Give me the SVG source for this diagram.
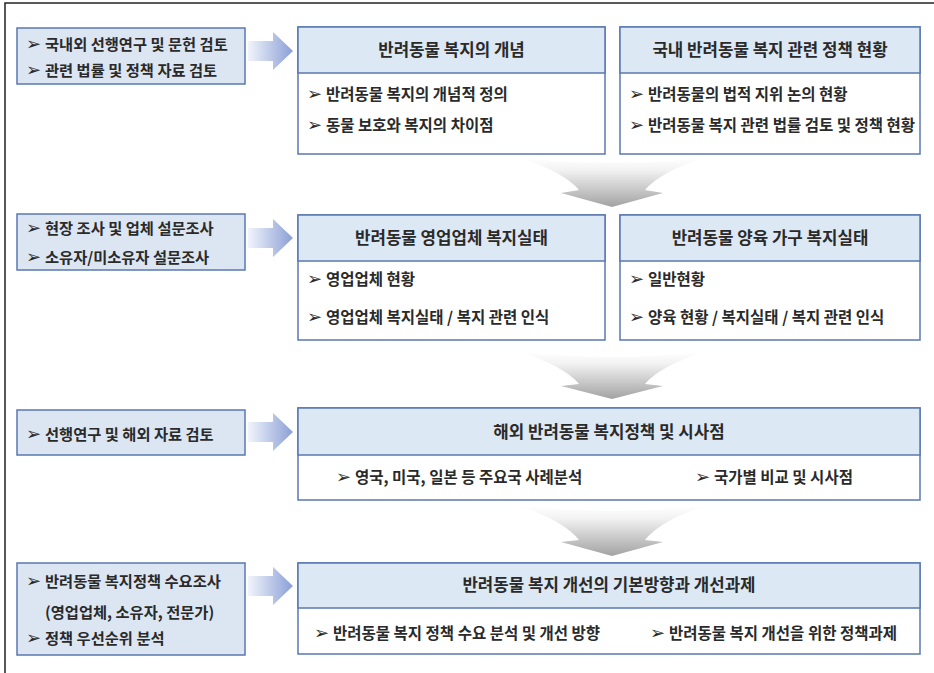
<svg xmlns="http://www.w3.org/2000/svg" width="934" height="673" viewBox="0 0 934 673">
<defs>
<linearGradient id="ra" x1="0" y1="0" x2="1" y2="0">
<stop offset="0" stop-color="#f1f4fb"/>
<stop offset="1" stop-color="#8b9fd6"/>
</linearGradient>
<linearGradient id="da" x1="0" y1="0" x2="0" y2="1">
<stop offset="0" stop-color="#ffffff"/>
<stop offset="0.25" stop-color="#f2f2f2"/>
<stop offset="1" stop-color="#a2a2a2"/>
</linearGradient>
<style>
.lb{fill:#dce6f3;stroke:#5a78b0;stroke-width:1.5}
.hd{fill:#dde8f5;stroke:#5a78b0;stroke-width:1.5}
.bd{fill:#ffffff;stroke:#5a78b0;stroke-width:1.5}
.t{font-family:"Noto Sans CJK KR","Noto Sans",sans-serif;font-weight:700;font-size:15.5px;fill:#2a2a2a}
.l{font-size:15.3px}
.ti{font-size:16.8px;text-anchor:middle}
.bl{font-family:"DejaVu Sans",sans-serif;font-size:18px;font-weight:700}
.fr{fill:none;stroke:#222;stroke-width:1.5}
</style>
</defs>
<rect width="934" height="673" fill="#ffffff"/>
<path class="fr" d="M5,673 L5,3 L934,3"/>

<g id="connectors">
<path fill="url(#ra)" d="M248,41 L273,41 L273,32 L293,51 L273,70 L273,61 L248,61 Z"/>
<path fill="url(#ra)" d="M248,228 L273,228 L273,219 L293,238 L273,257 L273,248 L248,248 Z"/>
<path fill="url(#ra)" d="M248,422 L273,422 L273,413 L293,432 L273,451 L273,442 L248,442 Z"/>
<path fill="url(#ra)" d="M248,576 L273,576 L273,567 L293,586 L273,605 L273,596 L248,596 Z"/>
<path fill="url(#da)" d="M520,158 Q612,168 704,158 Q660,172 645,190 L663,193 L612,207 L561,193 L579,190 Q564,172 520,158 Z"/>
<path fill="url(#da)" d="M520,352 Q612,362 704,352 Q660,366 645,384 L663,386 L612,399 L561,386 L579,384 Q564,366 520,352 Z"/>
<path fill="url(#da)" d="M520,506 Q612,516 704,506 Q660,521 645,540 L663,542 L612,556 L561,542 L579,540 Q564,521 520,506 Z"/>
</g>

<g id="left1">
<rect class="lb" x="17" y="28" width="228" height="56"/>
<text class="t l" x="26" y="50"><tspan class="bl">➢</tspan><tspan x="45">국내외 선행연구 및 문헌 검토</tspan></text>
<text class="t l" x="26" y="76"><tspan class="bl">➢</tspan><tspan x="45">관련 법률 및 정책 자료 검토</tspan></text>
</g>
<g id="left2">
<rect class="lb" x="17" y="214" width="228" height="56"/>
<text class="t l" x="26" y="234"><tspan class="bl">➢</tspan><tspan x="45">현장 조사 및 업체 설문조사</tspan></text>
<text class="t l" x="26" y="263"><tspan class="bl">➢</tspan><tspan x="45">소유자/미소유자 설문조사</tspan></text>
</g>
<g id="left3">
<rect class="lb" x="17" y="410" width="228" height="45"/>
<text class="t l" x="26" y="440"><tspan class="bl">➢</tspan><tspan x="45">선행연구 및 해외 자료 검토</tspan></text>
</g>
<g id="left4">
<rect class="lb" x="17" y="563" width="228" height="92"/>
<text class="t l" x="26" y="587"><tspan class="bl">➢</tspan><tspan x="45">반려동물 복지정책 수요조사</tspan></text>
<text class="t l" x="45" y="618">(영업업체, 소유자, 전문가)</text>
<text class="t l" x="26" y="644"><tspan class="bl">➢</tspan><tspan x="45">정책 우선순위 분석</tspan></text>
</g>

<g id="concept">
<rect class="bd" x="298" y="27" width="307" height="127"/>
<rect class="hd" x="298" y="27" width="307" height="46"/>
<text class="t ti" x="451.5" y="56">반려동물 복지의 개념</text>
<text class="t" x="307" y="100"><tspan class="bl">➢</tspan><tspan x="326">반려동물 복지의 개념적 정의</tspan></text>
<text class="t" x="307" y="131"><tspan class="bl">➢</tspan><tspan x="326">동물 보호와 복지의 차이점</tspan></text>
</g>
<g id="policy">
<rect class="bd" x="620" y="27" width="300" height="127"/>
<rect class="hd" x="620" y="27" width="300" height="46"/>
<text class="t ti" x="770" y="56">국내 반려동물 복지 관련 정책 현황</text>
<text class="t" x="629" y="100"><tspan class="bl">➢</tspan><tspan x="648">반려동물의 법적 지위 논의 현황</tspan></text>
<text class="t" x="629" y="131"><tspan class="bl">➢</tspan><tspan x="648">반려동물 복지 관련 법률 검토 및 정책 현황</tspan></text>
</g>

<g id="business">
<rect class="bd" x="298" y="215" width="307" height="125"/>
<rect class="hd" x="298" y="215" width="307" height="46"/>
<text class="t ti" x="451.5" y="244">반려동물 영업업체 복지실태</text>
<text class="t" x="307" y="285"><tspan class="bl">➢</tspan><tspan x="326">영업업체 현황</tspan></text>
<text class="t" x="307" y="323"><tspan class="bl">➢</tspan><tspan x="326">영업업체 복지실태 / 복지 관련 인식</tspan></text>
</g>
<g id="household">
<rect class="bd" x="620" y="215" width="300" height="125"/>
<rect class="hd" x="620" y="215" width="300" height="46"/>
<text class="t ti" x="770" y="244">반려동물 양육 가구 복지실태</text>
<text class="t" x="629" y="285"><tspan class="bl">➢</tspan><tspan x="648">일반현황</tspan></text>
<text class="t" x="629" y="323"><tspan class="bl">➢</tspan><tspan x="648">양육 현황 / 복지실태 / 복지 관련 인식</tspan></text>
</g>

<g id="overseas">
<rect class="bd" x="298" y="408" width="622" height="92"/>
<rect class="hd" x="298" y="408" width="622" height="47"/>
<text class="t ti" x="609" y="438">해외 반려동물 복지정책 및 시사점</text>
<text class="t" x="336" y="483"><tspan class="bl">➢</tspan><tspan x="355">영국, 미국, 일본 등 주요국 사례분석</tspan></text>
<text class="t" x="695" y="483"><tspan class="bl">➢</tspan><tspan x="714">국가별 비교 및 시사점</tspan></text>
</g>

<g id="improvement">
<rect class="bd" x="298" y="563" width="622" height="91"/>
<rect class="hd" x="298" y="563" width="622" height="45"/>
<text class="t ti" x="609" y="591">반려동물 복지 개선의 기본방향과 개선과제</text>
<text class="t" x="314" y="639"><tspan class="bl">➢</tspan><tspan x="333">반려동물 복지 정책 수요 분석 및 개선 방향</tspan></text>
<text class="t" x="650" y="639"><tspan class="bl">➢</tspan><tspan x="669">반려동물 복지 개선을 위한 정책과제</tspan></text>
</g>
</svg>
